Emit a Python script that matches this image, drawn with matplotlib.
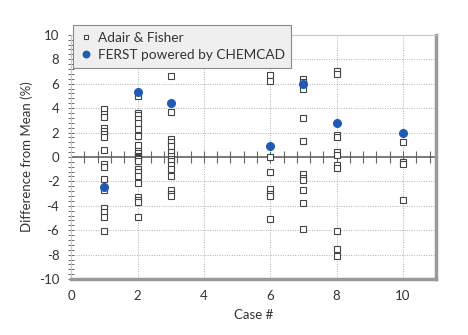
import numpy as np
import matplotlib.pyplot as plt

plt.rcParams['font.family'] = ['Lato', 'DejaVu Sans']
plt.rcParams['axes.unicode_minus'] = False

# Adair & Fisher: valores por caso
af_case = [1]*16 + [2]*23 + [3]*15 + [6]*8 + [7]*11 + [8]*11 + [10]*4
af_val = [3.9, 3.5, 3.3, 2.4, 2.1, 1.9, 1.6, 0.6, -0.6, -0.8, -1.8, -2.7, -4.2, -4.5, -4.9, -6.1,
          5.0, 3.6, 3.4, 3.1, 2.8, 2.3, 1.7, 1.0, 0.5, 0.3, 0.1, 0.0, -0.1, -0.2, -0.3, -1.0,
          -1.25, -1.6, -2.1, -3.3, -3.5, -3.7, -4.9,
          6.6, 3.7, 1.5, 1.2, 0.9, 0.4, 0.1, -0.2, -0.35, -0.7, -1.0, -1.6, -2.7, -3.0, -3.2,
          6.7, 6.2, 0.0, -1.2, -2.6, -3.0, -3.2, -5.1,
          6.4, 6.1, 5.6, 3.2, 1.3, -1.4, -1.7, -1.9, -2.7, -3.8, -5.9,
          7.0, 6.8, 1.8, 1.6, 0.4, 0.2, -0.7, -0.9, -6.1, -7.5, -8.1,
          1.25, -0.45, -0.55, -3.5]

# FERST powered by CHEMCAD
ferst_case = [1, 2, 3, 6, 7, 8, 10]
ferst_val = [-2.5, 5.3, 4.4, 0.9, 6.0, 2.8, 2.0]

fig = plt.figure(figsize=(4.68, 3.35), dpi=100)
ax = fig.add_axes([0.152, 0.167, 0.78, 0.729])

ax.set_xlim(0, 11)
ax.set_ylim(-10, 10)
ax.set_xticks(np.arange(0, 11, 2))
ax.set_yticks(np.arange(-10, 11, 2))
ax.set_yticks(np.arange(-10, 10.01, 0.4), minor=True)
ax.grid(True, which='major', linestyle=(0, (1, 1.5)), color='#b0b0b0', linewidth=0.7)
ax.set_axisbelow(True)

ax.tick_params(axis='y', which='both', direction='inout', length=5, width=0.7,
               color='#666666', labelsize=9.5, labelcolor='#333333', pad=6)
ax.tick_params(axis='x', which='both', length=0, labelsize=9.5, labelcolor='#333333', pad=8)

for s in ['left', 'top']:
    ax.spines[s].set_color('#c8c8c8')
    ax.spines[s].set_linewidth(0.8)
for s in ['bottom', 'right']:
    ax.spines[s].set_color('#9a9a9a')
    ax.spines[s].set_linewidth(2.5)

# linea del cero con marcas
zx = np.arange(0.4, 11, 0.4)
ax.axhline(0, color='#666666', linewidth=1.2, zorder=1)
ax.plot(zx, np.zeros(len(zx)), linestyle='none',
        marker='|', markersize=8, color='#666666', markeredgewidth=0.8, zorder=1)

ax.plot(af_case, af_val, linestyle='none', marker='s', markersize=4.2,
        markerfacecolor='white', markeredgecolor='#444444', markeredgewidth=0.8,
        label='Adair & Fisher', zorder=3)
ax.plot(ferst_case, ferst_val, linestyle='none', marker='o', markersize=5.5,
        color='#1f5bb5', label='FERST powered by CHEMCAD', zorder=4)

ax.set_xlabel('Case #', fontsize=9.5, color='#333333', labelpad=5)
ax.set_ylabel('Difference from Mean (%)', fontsize=9.5, color='#333333', labelpad=4)

leg = fig.legend(loc='upper left', bbox_to_anchor=(0.156, 0.925), fontsize=9.8,
                 frameon=True, fancybox=False, handletextpad=0.4, borderpad=0.5,
                 labelspacing=0.35, handlelength=0.9, borderaxespad=0, markerscale=0.85)
leg.get_frame().set_facecolor('#efefef')
leg.get_frame().set_edgecolor('#8a8a8a')
leg.get_frame().set_linewidth(0.8)
leg.get_frame().set_alpha(1)
for t in leg.get_texts():
    t.set_color('#333333')

fig.savefig('out.png', dpi=100)
